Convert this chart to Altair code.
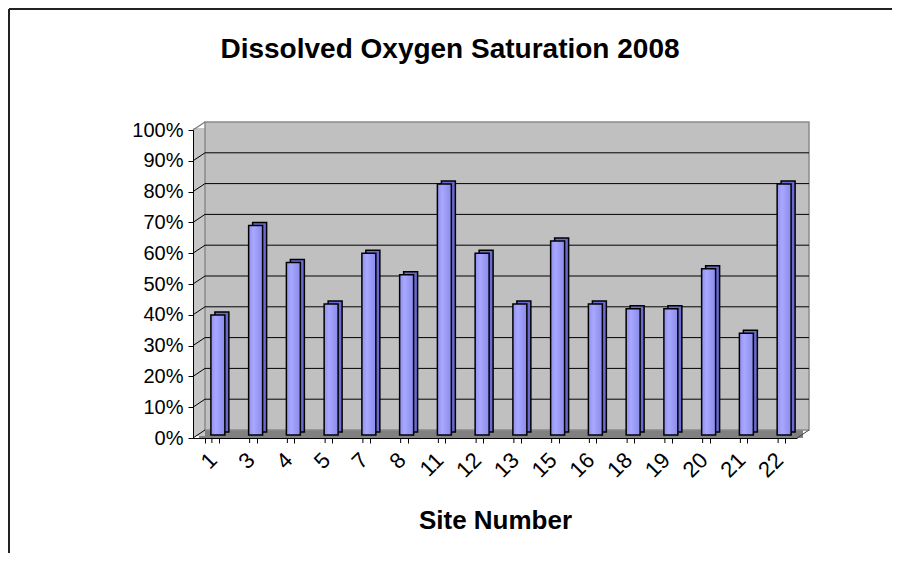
import altair as alt
import pandas as pd

# ---- data ----
sites = ['1', '3', '4', '5', '7', '8', '11', '12', '13', '15', '16', '18', '19', '20', '21', '22']
saturation = [0.39, 0.68, 0.56, 0.425, 0.59, 0.52, 0.815, 0.59, 0.425, 0.63, 0.425, 0.41, 0.41, 0.54, 0.33, 0.815]
y_ticks = [0.0, 0.1, 0.2, 0.3, 0.4, 0.5, 0.6, 0.7, 0.8, 0.9, 1.0]
inner_ticks = [0.1, 0.2, 0.3, 0.4, 0.5, 0.6, 0.7, 0.8, 0.9]
side_ticks = [0.0, 0.1, 0.2, 0.3, 0.4, 0.5, 0.6, 0.7, 0.8, 0.9]
title_text = ['Dissolved Oxygen Saturation 2008']

df = pd.DataFrame({'site': sites, 'v': saturation})
inner_df = pd.DataFrame({'tick': inner_ticks})
side_df = pd.DataFrame({'tick': side_ticks})
title_df = pd.DataFrame({'t': title_text})
one = pd.DataFrame({'k': [0]})

W, H = 604, 308      # front plane of the plot
DX, DY = 12, 8       # 3-D depth offset
PAD_L, PAD_T, PAD_R, PAD_B = 185, 122, 95, 115
FONT = 'Liberation Sans'

x_scale = alt.Scale(domain=sites, paddingInner=0.63, paddingOuter=0.315)
y_scale = alt.Scale(domain=[0, 1], nice=False)

x_axis = alt.Axis(title='Site Number', titleFont=FONT, titleFontSize=26, titleFontWeight='bold',
                  titleColor='black', titleBaseline='alphabetic', titleY=90,
                  labelAngle=-45, labelFont=FONT, labelFontSize=22, labelColor='black',
                  labelPadding=6, labelOffset=-6, labelOverlap=False, tickBand='extent',
                  tickColor='black', tickSize=5, domainColor='black', domainWidth=1,
                  grid=False, zindex=1)
y_axis = alt.Axis(title=None, values=y_ticks, format='.0%', labelFont=FONT, labelFontSize=20,
                  labelColor='black', labelPadding=5, tickColor='black', tickSize=5,
                  domainColor='black', domainWidth=1, grid=False, zindex=1)

X = alt.X('site:N', scale=x_scale, axis=x_axis, sort=sites)

border_left = alt.Chart(one).mark_rule(color='#222222', strokeWidth=2).encode(
    x=alt.value(-PAD_L + 1), y=alt.value(-PAD_T + 1), y2=alt.value(H + PAD_B))
border_top = alt.Chart(one).mark_rule(color='#222222', strokeWidth=2).encode(
    x=alt.value(-PAD_L + 1), x2=alt.value(W + PAD_R), y=alt.value(-PAD_T + 1))

title = alt.Chart(title_df).mark_text(font=FONT, fontSize=28, fontWeight='bold', color='black',
                                      align='center', baseline='alphabetic').encode(
    text='t:N', x=alt.value(257), y=alt.value(-72))

floor = alt.Chart(one).mark_rect(fill='#808080').encode(
    x=alt.value(DX / 2), x2=alt.value(W + DX / 2), y=alt.value(H - DY), y2=alt.value(H))

side_wall = alt.Chart(one).mark_rect(fill='#C6C6C6').encode(
    x=alt.value(0), x2=alt.value(DX), y=alt.value(-2), y2=alt.value(H - 2))

back_wall = alt.Chart(one).mark_rect(fill='#C0C0C0', stroke='#8A8A8A', strokeWidth=1.5).encode(
    x=alt.value(DX), x2=alt.value(W + DX), y=alt.value(-DY), y2=alt.value(H - DY))

side_top = alt.Chart(one).mark_rule(color='#808080', strokeWidth=1.5).encode(
    x=alt.value(0), x2=alt.value(DX), y=alt.value(0), y2=alt.value(-DY))

floor_edge = alt.Chart(one).mark_rule(color='#404040', strokeWidth=1).encode(
    x=alt.value(W), x2=alt.value(W + DX), y=alt.value(H), y2=alt.value(H - DY))

grid_back = alt.Chart(inner_df).mark_rule(color='black', strokeWidth=1, yOffset=-DY).encode(
    x=alt.value(DX), x2=alt.value(W + DX),
    y=alt.Y('tick:Q', scale=y_scale, axis=y_axis))

grid_side = alt.Chart(side_df).mark_rule(color='black', strokeWidth=1, y2Offset=-DY).encode(
    x=alt.value(0), x2=alt.value(DX),
    y=alt.Y('tick:Q', scale=y_scale, axis=y_axis), y2='tick:Q')

mid_ticks = alt.Chart(df).mark_rule(color='black', strokeWidth=1).encode(
    x=X, y=alt.value(H), y2=alt.value(H + 5))

bar_back = alt.Chart(df).mark_bar(fill='#6A6AD2', stroke='black', strokeWidth=1.5,
                                  xOffset=10, x2Offset=10, yOffset=-6, y2Offset=-6).encode(
    x=X, y=alt.Y('v:Q', scale=y_scale, axis=y_axis))

front_fill = alt.Gradient(gradient='linear', x1=0, x2=1, y1=0, y2=0,
                          stops=[alt.GradientStop(color='#9090F2', offset=0),
                                 alt.GradientStop(color='#A8A8FF', offset=0.35),
                                 alt.GradientStop(color='#8A8AEA', offset=1)])

bar_front = alt.Chart(df).mark_bar(fill=front_fill, stroke='black', strokeWidth=1.5,
                                   xOffset=6, x2Offset=6, yOffset=-3, y2Offset=-3).encode(
    x=X, y=alt.Y('v:Q', scale=y_scale, axis=y_axis))

chart = alt.layer(
    border_left, border_top, title, floor, side_wall, back_wall, side_top, floor_edge,
    grid_back, grid_side, mid_ticks, bar_back, bar_front
).properties(
    width=W, height=H,
    autosize=alt.AutoSizeParams(type='none'),
    padding={'left': PAD_L, 'top': PAD_T, 'right': PAD_R, 'bottom': PAD_B},
    background='white'
).configure_view(stroke=None)

chart.save('out.html', embed_options={'renderer': 'svg', 'actions': False})
